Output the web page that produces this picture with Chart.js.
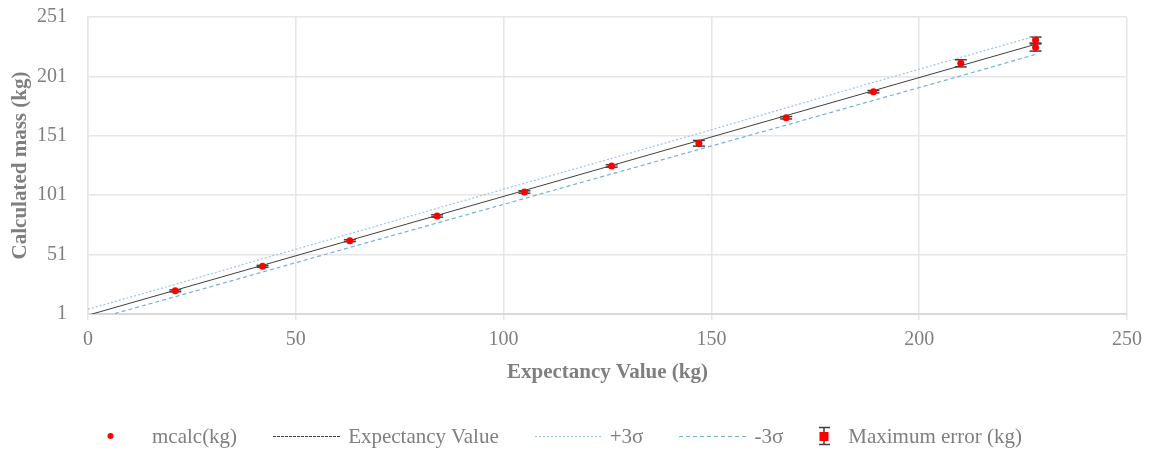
<!DOCTYPE html>
<html>
<head>
<meta charset="utf-8">
<title>Calculated mass vs expectancy value</title>
<script src="https://cdn.jsdelivr.net/npm/chart.js@4.4.0/dist/chart.umd.min.js"></script>
<style>
    body { margin: 0; background: #fff; }
    #wrap { position: relative; width: 1150px; height: 452px; }
    #legend {
        position: absolute; left: 77px; top: 424px; height: 24px;
        display: flex; align-items: center; white-space: nowrap;
        font-family: "Liberation Serif", "Times New Roman", serif;
        font-size: 21px; color: #7f7f7f;
    }
    #legend .item { display: flex; align-items: center; margin-right: 36px; }
    #legend canvas { margin-right: 8px; }
</style>
</head>
<body>
<div id="wrap">
    <canvas id="massChart" width="1150" height="452"></canvas>
    <div id="legend"></div>
</div>
<script>
    // measured points
    var mcalcX = [21, 42, 63, 84, 105, 126, 147, 168, 189, 210, 228, 228];
    var mcalcY = [20.5, 41.1, 62.7, 83.5, 103.7, 125.6, 144.7, 166.2, 188.1, 212, 231.6, 225.3];
    var maxError = [0.8, 0.8, 0.8, 1, 1, 1, 2.4, 1, 1, 3, 2.5, 3];

    // reference lines
    var lineX = [0, 21, 42, 63, 84, 105, 126, 147, 168, 189, 210, 228];
    var expectY = [0, 21, 42, 63, 84, 105, 126, 147, 168, 189, 210, 228];
    var plus3Y = [5, 26, 47.5, 68.5, 90, 111, 132, 153, 174.5, 196, 217, 235];
    var minus3Y = [-5, 15.6, 36.3, 57, 77.6, 98.2, 118.9, 139.5, 160, 180.8, 201.4, 219.5];

    var xTicks = [0, 50, 100, 150, 200, 250];
    var yTicks = [1, 51, 101, 151, 201, 251];

    var serif = '"Liberation Serif", "Times New Roman", serif';
    var textGray = '#7f7f7f';
    var gridGray = '#e6e6e6';

    function pairs(xs, ys) {
        var out = [];
        for (var i = 0; i < xs.length; i++) {
            out.push({x: xs[i], y: ys[i]});
        }
        return out;
    }

    // error bars: low end, high end, then a gap
    var errPoints = [];
    for (var i = 0; i < mcalcX.length; i++) {
        errPoints.push({x: mcalcX[i], y: mcalcY[i] - maxError[i]});
        errPoints.push({x: mcalcX[i], y: mcalcY[i] + maxError[i]});
        errPoints.push({x: mcalcX[i], y: null});
    }

    const ctx = document.getElementById('massChart');
    var massChart = new Chart(ctx, {
        type: 'scatter',
        data: {
            datasets: [{
                label: 'mcalc(kg)',
                data: pairs(mcalcX, mcalcY),
                backgroundColor: '#ff0000',
                borderColor: '#ff0000',
                pointRadius: 3.5,
                pointBorderWidth: 0
            }, {
                label: 'Expectancy Value',
                data: pairs(lineX, expectY),
                showLine: true,
                borderColor: '#404040',
                borderWidth: 1,
                pointRadius: 0
            }, {
                label: '+3σ',
                data: pairs(lineX, plus3Y),
                showLine: true,
                borderColor: '#9dc3e6',
                borderWidth: 1.2,
                borderDash: [2, 2],
                pointRadius: 0
            }, {
                label: '-3σ',
                data: pairs(lineX, minus3Y),
                showLine: true,
                borderColor: '#74b0e0',
                borderWidth: 1.2,
                borderDash: [4, 3],
                pointRadius: 0
            }, {
                label: 'Maximum error (kg)',
                data: errPoints,
                showLine: true,
                spanGaps: false,
                borderColor: '#7f7f7f',
                borderWidth: 1.5,
                pointStyle: 'line',
                pointRadius: 6,
                pointBorderColor: '#404040',
                pointBorderWidth: 1.5
            }]
        },
        options: {
            responsive: false,
            animation: false,
            events: [],
            layout: {
                padding: {left: 0, right: 22, top: 17, bottom: 67}
            },
            plugins: {
                legend: {display: false},
                tooltip: {enabled: false}
            },
            scales: {
                x: {
                    type: 'linear',
                    min: 0,
                    max: 250,
                    afterBuildTicks: function(s) {
                        s.ticks = xTicks.map(function(v) { return {value: v}; });
                    },
                    afterFit: function(s) { s.height = 71; },
                    grid: {color: gridGray, lineWidth: 1.5, drawTicks: true, tickLength: 6},
                    border: {color: '#d9d9d9', width: 2},
                    ticks: {padding: 8, maxRotation: 0, color: textGray, font: {family: serif, size: 20}},
                    title: {
                        display: true,
                        text: 'Expectancy Value (kg)',
                        color: textGray,
                        padding: 0,
                        font: {family: serif, size: 21, weight: 'bold'}
                    }
                },
                y: {
                    type: 'linear',
                    min: 1,
                    max: 251,
                    afterBuildTicks: function(s) {
                        s.ticks = yTicks.map(function(v) { return {value: v}; });
                    },
                    afterFit: function(s) { s.width = 88; },
                    // invisible tick marks keep the labels off the axis
                    grid: {color: gridGray, lineWidth: 1.5, drawTicks: true, tickLength: 21, tickColor: 'rgba(0,0,0,0)'},
                    border: {color: gridGray, width: 1.5},
                    ticks: {padding: 0, color: textGray, font: {family: serif, size: 20}},
                    title: {
                        display: true,
                        text: 'Calculated mass (kg)',
                        color: textGray,
                        padding: {top: 8, bottom: 0},
                        font: {family: serif, size: 21, weight: 'bold'}
                    }
                }
            }
        }
    });

    // html legend, icons drawn from the dataset styles
    function legendIcon(ds, idx) {
        var c = document.createElement('canvas');
        var w = idx === 4 ? 21 : 67;
        c.width = w;
        c.height = 24;
        var g = c.getContext('2d');
        if (idx === 0) {
            g.fillStyle = ds.backgroundColor;
            g.beginPath();
            g.arc(w / 2, 12, 3, 0, Math.PI * 2);
            g.fill();
        } else if (idx === 4) {
            g.strokeStyle = ds.pointBorderColor;
            g.lineWidth = 1.5;
            g.beginPath();
            g.moveTo(5, 3); g.lineTo(5, 21);
            g.moveTo(-1, 3.5); g.lineTo(11, 3.5);
            g.moveTo(-1, 20.5); g.lineTo(11, 20.5);
            g.stroke();
            g.fillStyle = '#ff0000';
            g.fillRect(0.5, 8, 9, 9);
        } else {
            g.strokeStyle = ds.borderColor;
            g.lineWidth = ds.borderWidth;
            g.setLineDash(ds.borderDash || [3, 1]);
            g.beginPath();
            g.moveTo(0, 12.5);
            g.lineTo(w, 12.5);
            g.stroke();
        }
        return c;
    }

    var legendBox = document.getElementById('legend');
    massChart.data.datasets.forEach(function(ds, idx) {
        var item = document.createElement('div');
        item.className = 'item';
        item.appendChild(legendIcon(ds, idx));
        var span = document.createElement('span');
        span.textContent = ds.label;
        item.appendChild(span);
        legendBox.appendChild(item);
    });
</script>
</body>
</html>
